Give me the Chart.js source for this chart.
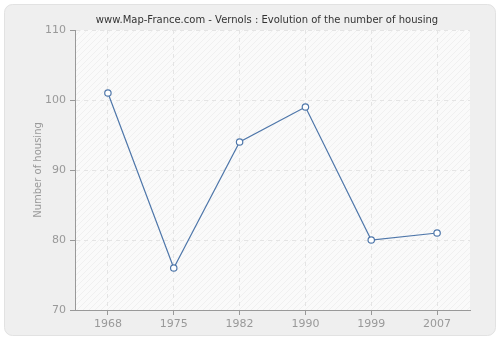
<!DOCTYPE html>
<html>
<head>
<meta charset="utf-8">
<script src="https://cdn.jsdelivr.net/npm/chart.js@4/dist/chart.umd.min.js"></script>
<style>
  html, body { margin: 0; padding: 0; background: #fff; }
  #wrap { width: 500px; height: 340px; }
</style>
</head>
<body>
<div id="wrap"><canvas id="chart" width="500" height="340"></canvas></div>
<script>
// data
const years = ['1968', '1975', '1982', '1990', '1999', '2007'];
const housing = [101, 76, 94, 99, 80, 81];
const yTicks = [70, 80, 90, 100, 110];

// card background + hatched plot area
const backdrop = {
  id: 'backdrop',
  beforeDraw(chart) {
    let ctx = chart.ctx;
    ctx.save();
    ctx.fillStyle = '#ffffff';
    ctx.fillRect(0, 0, chart.width, chart.height);
    ctx.beginPath();
    ctx.roundRect(4.5, 4.5, 491, 331, 8);
    ctx.fillStyle = '#efefef';
    ctx.fill();
    ctx.strokeStyle = '#e2e2e2';
    ctx.lineWidth = 1;
    ctx.stroke();

    let a = chart.chartArea;
    ctx.fillStyle = '#fafafa';
    ctx.fillRect(a.left, a.top, a.right - a.left, a.bottom - a.top);
    ctx.beginPath();
    ctx.rect(a.left, a.top, a.right - a.left, a.bottom - a.top);
    ctx.clip();
    ctx.strokeStyle = '#f0f0f0';
    ctx.lineWidth = 1;
    for (let x = a.left - (a.bottom - a.top); x < a.right; x += 6) {
      ctx.beginPath();
      ctx.moveTo(x, a.bottom);
      ctx.lineTo(x + (a.bottom - a.top), a.top);
      ctx.stroke();
    }
    ctx.restore();
  }
};

new Chart(document.getElementById('chart'), {
  type: 'line',
  data: {
    labels: years,
    datasets: [{
      data: housing,
      borderColor: '#4f77aa',
      borderWidth: 1.2,
      backgroundColor: '#ffffff',
      pointBorderColor: '#4f77aa',
      pointBackgroundColor: '#ffffff',
      pointBorderWidth: 1.2,
      pointRadius: 3.2,
      tension: 0
    }]
  },
  options: {
    responsive: false,
    animation: false,
    // negative right padding + empty right axis keeps the title centred on the plot
    layout: { padding: { left: 28, right: -6, top: 0, bottom: 0 } },
    plugins: {
      legend: { display: false },
      tooltip: { enabled: false },
      title: {
        display: true,
        text: 'www.Map-France.com - Vernols : Evolution of the number of housing',
        color: '#333',
        font: { family: 'DejaVu Sans', size: 10, weight: 'normal' },
        padding: { top: 14, bottom: 4 }
      }
    },
    scales: {
      x: {
        offset: true,
        grid: { offset: false, color: '#e4e4e4', tickColor: '#999', tickLength: 5 },
        border: { color: '#999', dash: [4, 4] },
        ticks: { color: '#999', font: { family: 'DejaVu Sans', size: 11 }, padding: 3 },
        afterFit(scale) { scale.height = 30; }
      },
      y: {
        min: 70,
        max: 110,
        afterBuildTicks(scale) { scale.ticks = yTicks.map(v => ({ value: v })); },
        grid: { color: '#e4e4e4', tickColor: '#999', tickLength: 5 },
        border: { color: '#999', dash: [4, 4] },
        ticks: { color: '#999', font: { family: 'DejaVu Sans', size: 11 }, padding: 4 },
        title: {
          display: true,
          text: 'Number of housing',
          color: '#999',
          font: { family: 'DejaVu Sans', size: 10 },
          padding: { top: 4, bottom: 4 }
        },
        afterFit(scale) { scale.width = 47; }
      },
      spacer: {
        position: 'right',
        min: 70,
        max: 110,
        grid: { display: false, drawTicks: false },
        border: { display: false },
        ticks: { display: false },
        afterFit(scale) { scale.width = 36; }
      }
    }
  },
  plugins: [backdrop]
});
</script>
</body>
</html>
